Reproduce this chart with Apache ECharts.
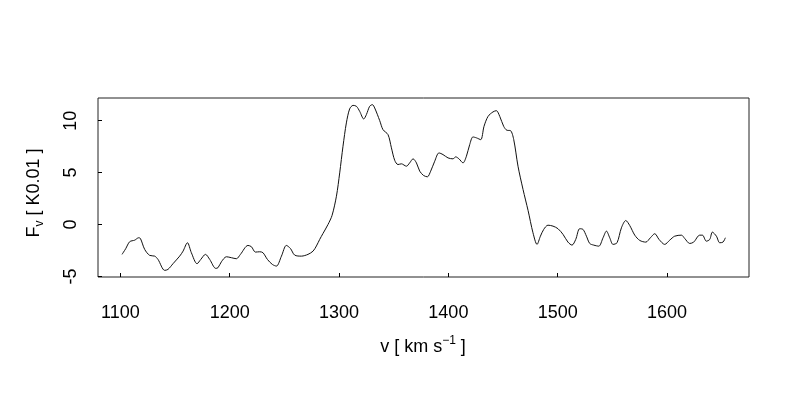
<!DOCTYPE html>
<html>
<head>
<meta charset="utf-8">
<script src="https://cdn.jsdelivr.net/npm/echarts@6/dist/echarts.min.js"></script>
<style>html,body{margin:0;padding:0;background:#fff;}#c{width:800px;height:400px;}</style>
</head>
<body>
<div id="c"></div>
<script>
const velocity = [1101.5,1104.8,1108.5,1113.1,1116.7,1118.3,1122.2,1126.8,1131.4,1134.4,1140.5,1143.5,1148.1,1154.2,1157.3,1161.3,1164.9,1170.1,1173.5,1177.8,1181.7,1187.2,1189.3,1192.4,1197.0,1201.5,1206.1,1209.8,1216.7,1219.8,1223.5,1227.4,1230.4,1234.5,1239.0,1242.7,1247.3,1251.8,1255.5,1259.4,1265.6,1271.6,1276.2,1279.3,1282.3,1285.3,1289.9,1293.6,1297.6,1300.6,1303.6,1306.7,1309.7,1312.8,1315.9,1318.9,1322.6,1325.0,1328.0,1330.5,1332.6,1337.2,1340.2,1344.8,1347.9,1350.9,1353.9,1357.0,1361.6,1364.6,1367.7,1370.8,1373.8,1377.4,1380.8,1383.8,1387.5,1391.4,1395.1,1399.7,1404.2,1406.7,1409.7,1413.4,1416.5,1419.5,1422.5,1425.7,1429.6,1432.6,1436.3,1440.8,1443.9,1447.0,1450.6,1453.6,1456.8,1459.8,1463.7,1468.3,1472.9,1477.4,1481.1,1484.2,1487.2,1491.1,1495.7,1500.3,1504.9,1509.4,1513.1,1516.5,1520.1,1523.2,1526.3,1529.3,1533.0,1537.6,1541.5,1544.6,1547.6,1550.6,1554.3,1558.3,1562.3,1565.9,1570.5,1575.1,1580.6,1584.8,1588.8,1592.7,1597.9,1602.5,1607.0,1613.2,1616.2,1620.8,1624.4,1629.9,1632.4,1636.0,1639.1,1641.5,1645.2,1648.2,1651.2,1653.4];
const flux = [-2.88,-2.34,-1.66,-1.51,-1.28,-1.35,-2.40,-2.98,-3.05,-3.37,-4.42,-4.33,-3.78,-3.05,-2.57,-1.76,-2.72,-3.78,-3.37,-2.88,-3.37,-4.23,-4.16,-3.59,-3.11,-3.20,-3.30,-2.88,-2.02,-2.14,-2.66,-2.63,-2.72,-3.37,-3.85,-4.01,-3.05,-2.02,-2.31,-2.95,-3.05,-2.88,-2.57,-2.07,-1.44,-0.87,0.00,0.87,2.72,4.97,7.53,9.78,11.13,11.47,11.38,10.89,10.16,10.58,11.38,11.54,11.22,10.00,9.13,8.65,7.38,6.18,5.77,5.84,5.61,5.93,6.32,5.93,5.13,4.71,4.59,5.13,6.09,6.89,6.73,6.41,6.32,6.51,6.32,5.93,6.57,7.69,8.43,8.34,8.17,9.45,10.41,10.84,10.96,10.41,9.45,9.07,9.04,8.17,5.61,3.37,1.35,-0.80,-1.92,-1.13,-0.48,-0.07,-0.16,-0.41,-0.96,-1.70,-1.99,-1.44,-0.41,-0.48,-1.13,-1.83,-1.99,-2.09,-1.28,-0.64,-1.28,-1.92,-1.76,-0.32,0.38,-0.10,-1.03,-1.54,-1.70,-1.28,-0.89,-1.44,-1.92,-1.51,-1.13,-1.03,-1.35,-1.83,-1.70,-1.03,-1.03,-1.61,-1.44,-0.74,-1.13,-1.76,-1.70,-1.28];
const xTicks = [1100,1200,1300,1400,1500,1600];
const yTicks = [-5,0,5,10];
const xTitle = 'v [ km s';
const xTitleSup = '−1';
const yTitleMain = 'F';
const yTitleSub = 'v';
const yTitleRest = ' [ K0.01 ]';

const FONT = '"Liberation Sans", Arial, Helvetica, sans-serif';
const chart = echarts.init(document.getElementById('c'), null, {renderer: 'canvas'});
chart.setOption({
  animation: false,
  backgroundColor: '#ffffff',
  grid: {left: 98, right: 51, top: 98, bottom: 123, show: true, borderColor: '#222', borderWidth: 1, backgroundColor: 'transparent'},
  xAxis: {
    type: 'value', min: 1079.5, max: 1675,
    axisLine: {show: false, onZero: false},
    splitLine: {show: false},
    axisTick: {show: true, inside: true, length: 4, customValues: xTicks, lineStyle: {color: '#000'}},
    axisLabel: {customValues: xTicks, margin: 27, fontSize: 18, color: '#000', fontFamily: FONT, formatter: v => String(v)}
  },
  yAxis: {
    type: 'value', min: -5.06, max: 12.18,
    axisLine: {show: false, onZero: false},
    splitLine: {show: false},
    axisTick: {show: true, inside: true, length: 4, customValues: yTicks, lineStyle: {color: '#000'}},
    axisLabel: {customValues: yTicks, margin: 18, rotate: 90, fontSize: 18, color: '#000', fontFamily: FONT, formatter: v => String(v)}
  },
  graphic: [
    {type: 'text', x: 423, y: 347, style: {
      text: xTitle + '{sup|' + xTitleSup + '} ]', fill: '#000', font: '18px ' + FONT,
      align: 'center', verticalAlign: 'middle', lineHeight: 24,
      rich: {sup: {fontSize: 12, fontFamily: FONT, verticalAlign: 'top', lineHeight: 24, fill: '#000'}}
    }},
    {type: 'text', x: 34, y: 193, rotation: Math.PI / 2, style: {
      text: yTitleMain + '{sub|' + yTitleSub + '}' + yTitleRest, fill: '#000', font: '18px ' + FONT,
      align: 'center', verticalAlign: 'middle', lineHeight: 24,
      rich: {sub: {fontSize: 12, fontFamily: FONT, verticalAlign: 'bottom', lineHeight: 24, fill: '#000'}}
    }}
  ],
  series: [{
    type: 'line', data: velocity.map((v, i) => [v, flux[i]]),
    showSymbol: false, smooth: 0.3, lineStyle: {color: '#111', width: 1}
  }]
});
</script>
</body>
</html>
